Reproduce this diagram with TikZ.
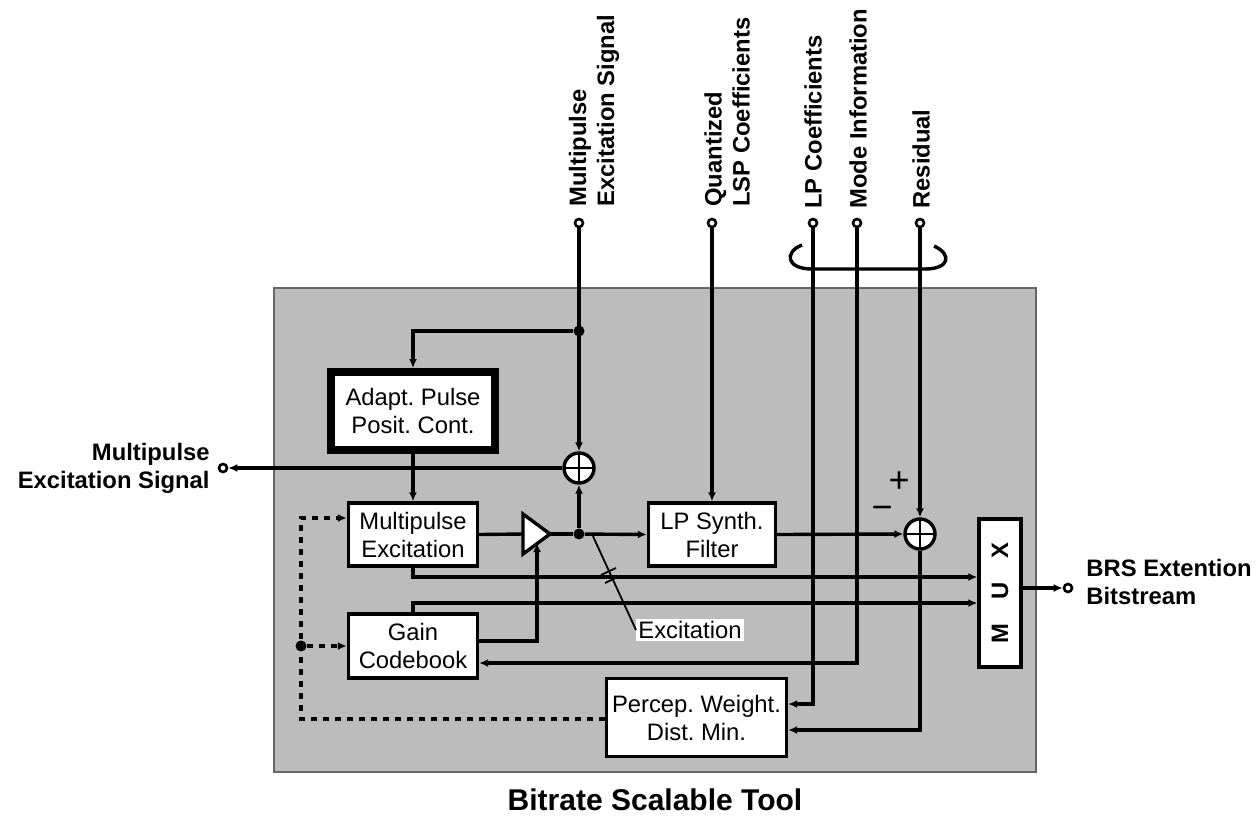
\documentclass[tikz,border=0pt]{standalone}
\usepackage{fontspec}
\setmainfont{Liberation Sans}
\usetikzlibrary{arrows.meta}
\frenchspacing
\begin{document}
\begin{tikzpicture}[x=0.5pt,y=-0.5pt,
  every node/.style={font=\fontsize{11.9}{14}\selectfont},
  block/.style={draw,fill=white,line width=1.7pt,inner sep=0pt,align=center},
  adder/.style={circle,draw,fill=white,line width=1.7pt,minimum size=15pt,inner sep=0pt,
    path picture={\draw[line width=1.3pt] (path picture bounding box.north)--(path picture bounding box.south)
      (path picture bounding box.west)--(path picture bounding box.east);}},
  term/.style={circle,draw,fill=white,line width=1.3pt,minimum size=4pt,inner sep=0pt},
  dot/.style={circle,fill,minimum size=5.5pt,inner sep=0pt},
  wire/.style={line width=1.7pt},
  sig/.style={wire,-{Latex[length=4.5pt,width=4pt]}},
  dashsig/.style={wire,dash pattern=on 3pt off 3pt,-{Latex[length=4.5pt,width=4pt]}},
  lab/.style={font=\fontsize{11.9}{14}\selectfont\bfseries},
  toplab/.style={lab,rotate=90,anchor=west,align=left,inner sep=0pt}]
\useasboundingbox (0,0) rectangle (1257,816);
\node[draw=black!60,line width=1pt,fill={rgb,255:red,188;green,188;blue,188},
  minimum width=381pt,minimum height=242pt] (tool) at (655,530) {};
\node[lab,font=\fontsize{15}{18}\selectfont\bfseries] (title) at (655,800) {Bitrate Scalable Tool};
\node[block,line width=4pt,minimum width=82pt,minimum height=39pt] (apc) at (413,411) {Adapt. Pulse\\Posit. Cont.};
\node[block,minimum width=64.5pt,minimum height=31.5pt] (mpe) at (413,534.5) {Multipulse\\Excitation};
\node[block,minimum width=64.5pt,minimum height=32pt] (gcb) at (413,646) {Gain\\Codebook};
\node[block,minimum width=63.5pt,minimum height=31.5pt] (lps) at (712,534.5) {LP Synth.\\Filter};
\node[block,minimum width=90pt,minimum height=39pt] (pwd) at (696.5,717.5) {Percep. Weight.\\Dist. Min.};
\node[block,minimum width=21pt,minimum height=74pt,
  label={[lab,rotate=90]center:M\quad U\quad X}] (mux) at (1000,593) {};
\node[adder] (add1) at (579,468) {};
\node[adder] (add2) at (920,534) {};
\node[dot] (jtop) at (579,331) {};
\node[dot] (jexc) at (579,534) {};
\node[dot] (jdash) at (301,646) {};
\node[term] (tmes) at (579,223) {};
\node[term] (tlsp) at (712,223) {};
\node[term] (tlpc) at (813,223) {};
\node[term] (tmode) at (857,223) {};
\node[term] (tres) at (920,223) {};
\node[term] (tleft) at (223,468) {};
\node[term] (tout) at (1068,588) {};
\node[toplab] (lmes) at (594,207) {Multipulse\\Excitation Signal};
\node[toplab] (llsp) at (727,207) {Quantized\\LSP Coefficients};
\node[toplab] (llpc) at (813,209) {LP Coefficients};
\node[toplab] (lmode) at (858,209) {Mode Information};
\node[toplab] (lres) at (921,209) {Residual};
\node[lab,align=right,anchor=east,inner sep=0pt] (lleft) at (210,468) {Multipulse\\Excitation Signal};
\node[lab,align=left,anchor=west,inner sep=0pt] (lout) at (1086,582) {BRS Extention\\Bitstream};
\node[font=\fontsize{18}{18}\selectfont] (plus) at (899,482) {+};
\node[font=\fontsize{18}{18}\selectfont] (minus) at (882,513) {−};
\node[fill=white,inner sep=1pt] (exc) at (690,630) {Excitation};
\draw[wire,fill=white] (523,514) coordinate (ampa) -- (550,534) coordinate (ampout)
  -- (523,554) coordinate (ampb) -- cycle;
\coordinate (ampin) at (523,534);
\coordinate (ampgain) at (537,543);
\draw[sig] (tmes.south) -- (add1.north);
\draw[sig] (jtop) -| (apc.north);
\draw[sig] (add1.west) -- (tleft.east);
\draw[sig] (apc.south) -- (mpe.north);
\draw[wire] (mpe.east) -- (ampin);
\draw[wire] (ampout) -- (jexc);
\draw[sig] (jexc) -- (lps.west);
\draw[sig] (jexc) -- (add1.south);
\draw[sig] (tlsp.south) -- (lps.north);
\draw[sig] (lps.east) -- (add2.west);
\draw[sig] (tres.south) -- (add2.north);
\draw[sig] (add2.south) |- (pwd.east |- 0,730);
\draw[sig] (tlpc.south) |- (pwd.east |- 0,704);
\draw[sig] (tmode.south) |- (gcb.east |- 0,663);
\draw[sig] (gcb.east |- 0,641) -| (ampgain);
\draw[sig] (mpe.south) |- (mux.west |- 0,577);
\draw[sig] (gcb.north) |- (mux.west |- 0,603);
\draw[sig] (mux.east |- 0,588) -- (tout.west);
\draw[dashsig] (pwd.west |- 0,719) -| (jdash.center) |- (mpe.west |- 0,518);
\draw[dashsig] (jdash) -- (gcb.west);
\draw[line width=0.9pt] (jexc.east) ++(8,2) -- (exc.west);
\draw[line width=0.9pt] (601,575) -- (616,568) (605,583) -- (620,576);
\draw[wire] (802,245) .. controls (784,252) and (786,269) .. (812,269) -- (925,269)
  .. controls (950,269) and (952,254) .. (934,246);
\end{tikzpicture}
\end{document}
